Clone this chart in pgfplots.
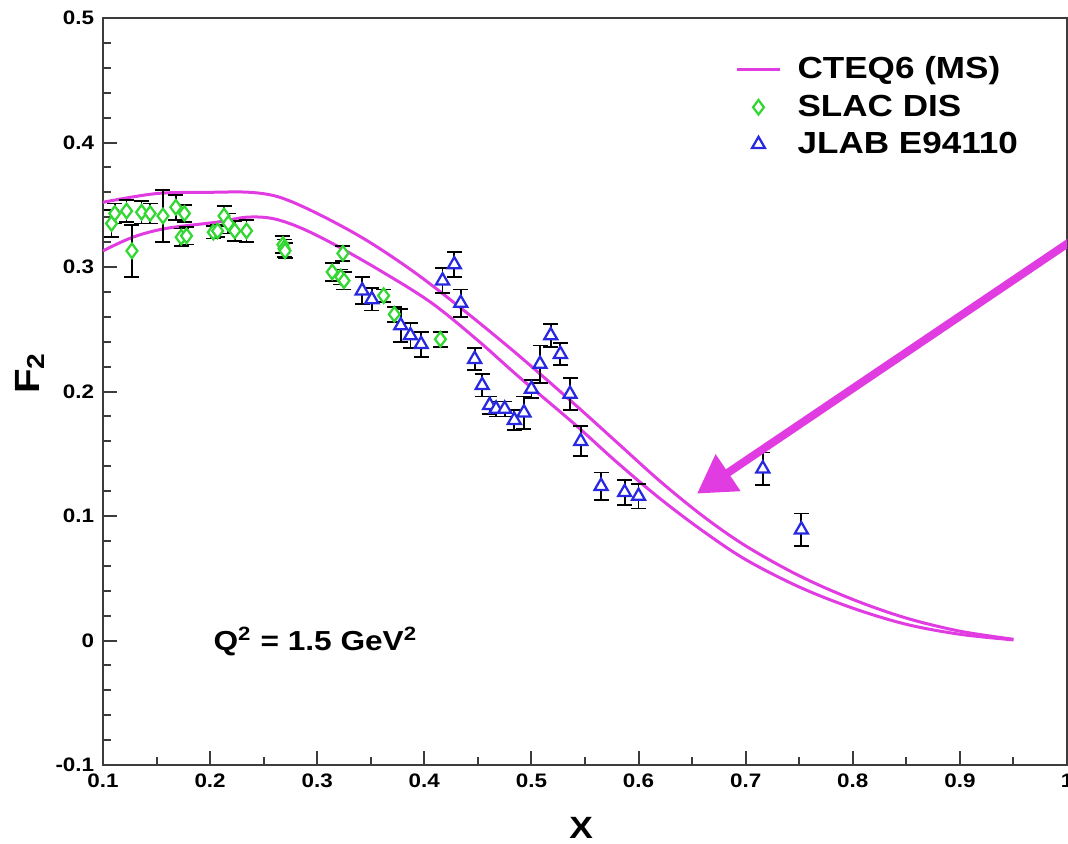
\documentclass[border=0pt]{standalone}
\usepackage{pgfplots}
\pgfplotsset{compat=1.18}
\usepackage{pgfplotstable}
\usepackage{fontspec}
\setmainfont{Liberation Sans}[FakeStretch=1.15]
\usetikzlibrary{arrows.meta}

\definecolor{cteq}{RGB}{225,60,225}
\definecolor{slac}{RGB}{50,215,50}
\definecolor{jlab}{RGB}{40,40,225}
\definecolor{frame}{RGB}{60,60,60}

% SLAC DIS
\pgfplotstableread{
x     y     ey
0.108 0.335 0.011
0.111 0.343 0.008
0.122 0.345 0.009
0.127 0.313 0.021
0.136 0.344 0.009
0.144 0.343 0.008
0.156 0.341 0.021
0.168 0.348 0.010
0.173 0.324 0.007
0.176 0.343 0.007
0.178 0.325 0.007
0.203 0.328 0.005
0.207 0.329 0.005
0.213 0.341 0.008
0.217 0.335 0.008
0.223 0.329 0.008
0.234 0.329 0.009
0.268 0.318 0.007
0.269 0.315 0.007
0.270 0.313 0.006
0.314 0.296 0.007
0.322 0.292 0.006
0.324 0.311 0.006
0.325 0.289 0.007
0.362 0.277 0.005
0.372 0.262 0.006
0.415 0.242 0.006
}\slac

% JLAB E94110
\pgfplotstableread{
x     y     ey
0.342 0.281 0.011
0.351 0.274 0.009
0.378 0.253 0.013
0.387 0.245 0.010
0.397 0.238 0.010
0.417 0.289 0.010
0.428 0.302 0.010
0.434 0.271 0.011
0.447 0.226 0.009
0.454 0.205 0.009
0.461 0.189 0.007
0.467 0.186 0.006
0.475 0.186 0.006
0.484 0.177 0.008
0.493 0.183 0.013
0.500 0.202 0.007
0.508 0.222 0.015
0.518 0.245 0.009
0.527 0.230 0.009
0.536 0.198 0.013
0.546 0.160 0.012
0.565 0.124 0.011
0.587 0.119 0.010
0.600 0.116 0.010
0.716 0.138 0.013
0.752 0.089 0.013
}\jlab

% CTEQ6 band, upper and lower edge
\pgfplotstableread{
x     y
0.100 0.352
0.150 0.359
0.200 0.360
0.237 0.360
0.265 0.356
0.300 0.343
0.345 0.322
0.392 0.295
0.440 0.263
0.488 0.229
0.540 0.190
0.580 0.159
0.620 0.128
0.660 0.100
0.700 0.076
0.750 0.052
0.800 0.033
0.850 0.018
0.900 0.0075
0.950 0.001
}\cteqhi

\pgfplotstableread{
x     y
0.100 0.313
0.128 0.324
0.159 0.331
0.206 0.336
0.234 0.340
0.258 0.339
0.283 0.332
0.314 0.319
0.361 0.296
0.407 0.271
0.450 0.241
0.488 0.212
0.540 0.174
0.580 0.143
0.620 0.114
0.660 0.088
0.700 0.065
0.750 0.043
0.800 0.026
0.850 0.013
0.900 0.005
0.950 0.0005
}\cteqlo

\begin{document}
\begin{tikzpicture}
\useasboundingbox (-41.2pt,-31.2pt) rectangle (386pt,306pt);
\clip (-41.2pt,-31.2pt) rectangle (386pt,306pt);
\begin{axis}[
    at={(0,0)}, anchor=south west,
    scale only axis,
    width=385.6pt, height=298.8pt,
    xmin=0.1, xmax=1, ymin=-0.1, ymax=0.5,
    xtick={0.1,0.2,0.3,0.4,0.5,0.6,0.7,0.8,0.9,1},
    ytick={-0.1,0,0.1,0.2,0.3,0.4,0.5},
    minor x tick num=1, minor y tick num=4,
    tick pos=left, tick align=inside,
    major tick length=5.6pt, minor tick length=3.2pt,
    tick style={color=frame, line width=0.8pt},
    axis line style={frame, line width=0.8pt},
    ticklabel style={font=\fontsize{7.8}{9}\selectfont\bfseries},
    /pgf/number format/assume math mode=true,
    xlabel={X},
    ylabel={F\textsubscript{2}},
    xlabel style={font=\fontsize{12.3}{14}\selectfont\bfseries,
        at={(axis description cs:0.496,-0.084)}, anchor=center},
    ylabel style={font=\fontsize{14}{16}\selectfont\bfseries,
        at={(axis description cs:-0.0755,0.525)}, anchor=center},
    legend style={draw=none, fill=none,
        at={(axis description cs:0.648,0.962)}, anchor=north west,
        font=\fontsize{12.2}{13}\selectfont\bfseries,
        row sep=0.8pt, column sep=4.5pt},
    legend cell align=left,
]
    \addplot[cteq, line width=1.2pt, smooth, tension=0.55] table[x=x, y=y] {\cteqhi};
    \addlegendentry{CTEQ6 (MS)}
    \addplot[cteq, line width=1.2pt, smooth, tension=0.55, forget plot] table[x=x, y=y] {\cteqlo};

    \addplot[only marks, mark=diamond*, mark size=2.9pt,
        mark options={draw=slac, fill=white, line width=0.9pt},
        error bars/.cd, y dir=both, y explicit,
        error bar style={black, line width=0.7pt},
        error mark options={rotate=90, black, mark size=3pt, line width=0.7pt}]
        table[x=x, y=y, y error=ey] {\slac};
    \addlegendentry{SLAC DIS}

    \addplot[only marks, mark=triangle*, mark size=3pt,
        mark options={draw=jlab, fill=white, line width=0.9pt},
        error bars/.cd, y dir=both, y explicit,
        error bar style={black, line width=0.7pt},
        error mark options={rotate=90, black, mark size=3pt, line width=0.7pt}]
        table[x=x, y=y, y error=ey] {\jlab};
    \addlegendentry{JLAB E94110}

    \node[anchor=base west, font=\fontsize{11}{13}\selectfont\bfseries]
        at (axis cs:0.195,-0.008) {Q\textsuperscript{2} = 1.5 GeV\textsuperscript{2}};

    \draw[cteq, line width=3.2pt, -{Triangle[length=15pt,width=17pt]}]
        (axis cs:1.03,0.336) -- (axis cs:0.6546,0.118);
\end{axis}
\end{tikzpicture}
\end{document}
